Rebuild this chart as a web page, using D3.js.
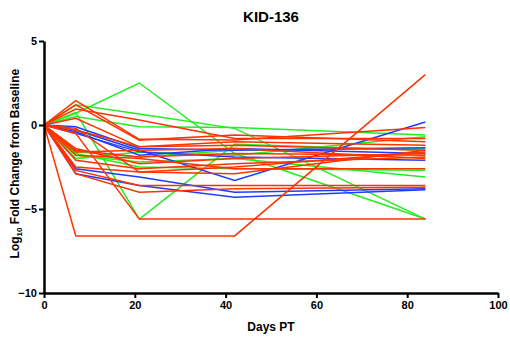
<!DOCTYPE html>
<html>
<head>
<meta charset="utf-8">
<script src="https://cdn.jsdelivr.net/npm/d3@7"></script>
<style>
  body { margin: 0; background: #fff; }
  svg text { font-family: "Liberation Sans", Arial, sans-serif; font-weight: bold; }
</style>
</head>
<body>
<div id="chart"></div>
<script>
// sample days
const days = [0, 7, 21, 42, 84];

// log10 fold change per subject, grouped by colour
const redSeries = [
  [0, -6.6, -6.6, -6.6, 3.0],
  [0, 1.45, -0.85, -0.9, -0.15],
  [0, 1.2, -0.9, -0.6, -1.0],
  [0, 0.95, 0.3, -0.8, -0.8],
  [0, 0.4, -1.3, -1.2, -1.5],
  [0, -0.5, -5.6, -5.6, -5.6],
  [0, -0.2, -2.8, -2.5, -1.6],
  [0, -1.5, -1.9, -1.7, -1.8],
  [0, -1.6, -1.5, -1.4, -2.0],
  [0, -2.1, -2.6, -2.3, -1.9],
  [0, -1.8, -2.0, -2.6, -2.6],
  [0, -2.7, -3.6, -3.6, -3.6],
  [0, -2.9, -4.0, -3.8, -3.7],
  [0, -0.3, -1.3, -1.0, -1.2],
  [0, -1.4, -2.3, -2.0, -1.7],
  [0, -2.5, -2.8, -2.9, -1.5]
];
const greenSeries = [
  [0, 0.7, 2.5, -1.7, -5.6],
  [0, 1.2, 0.65, -0.2, -5.6],
  [0, 0.5, -0.1, -0.15, -0.6],
  [0, 0.75, -5.6, -1.15, -1.5],
  [0, -1.7, -2.5, -2.6, -2.7],
  [0, -1.8, -2.2, -2.0, -3.1],
  [0, -2.0, -1.6, -1.8, -0.7],
  [0, -1.6, -1.9, -1.5, -1.4]
];
const blueSeries = [
  [0, -0.1, -1.4, -1.5, -1.35],
  [0, -0.5, -1.6, -1.9, -2.1],
  [0, -0.3, -1.5, -3.3, 0.18],
  [0, -2.6, -3.1, -4.0, -3.8],
  [0, -2.9, -3.6, -4.3, -3.85],
  [0, -0.4, -1.8, -1.4, -1.7]
];

const xTicks = [0, 20, 40, 60, 80, 100];
const yTicks = [5, 0, -5, -10];

const width = 510, height = 338;
const margin = { top: 41, right: 12, bottom: 45, left: 44 };

const svg = d3.select("#chart").append("svg")
  .attr("width", width)
  .attr("height", height);

const x = d3.scaleLinear().domain([0, 100]).range([margin.left, width - margin.right]);
const y = d3.scaleLinear().domain([-10, 5]).range([height - margin.bottom, margin.top]);

const line = d3.line()
  .x((d, i) => x(days[i]))
  .y(d => y(d));

const groups = [
  { data: redSeries, color: "#ff3300" },
  { data: greenSeries, color: "#22ee22" },
  { data: blueSeries, color: "#1f3dff" }
];

// draw green first, then blue, red on top (roughly as in the picture)
[groups[1], groups[2], groups[0]].forEach(g => {
  svg.append("g").selectAll("path")
    .data(g.data)
    .enter().append("path")
    .attr("d", line)
    .attr("fill", "none")
    .attr("stroke", g.color)
    .attr("stroke-width", 1.5);
});

// axes
const xAxis = svg.append("g")
  .attr("transform", `translate(0,${y(-10)})`)
  .call(d3.axisBottom(x).tickValues(xTicks).tickSize(5).tickSizeOuter(0).tickPadding(3));
const yAxis = svg.append("g")
  .attr("transform", `translate(${x(0)},0)`)
  .call(d3.axisLeft(y).tickValues(yTicks).tickSize(5).tickSizeOuter(0).tickPadding(2));

[xAxis, yAxis].forEach(a => {
  a.select(".domain").attr("stroke", "#000").attr("stroke-width", 2.5);
  a.selectAll(".tick line").attr("stroke", "#000").attr("stroke-width", 2);
  a.selectAll(".tick text").attr("fill", "#000").style("font-size", "11px");
});

// title and labels
svg.append("text")
  .attr("x", 271).attr("y", 22)
  .attr("text-anchor", "middle")
  .style("font-size", "15px")
  .text("KID-136");

svg.append("text")
  .attr("x", 271).attr("y", 331)
  .attr("text-anchor", "middle")
  .style("font-size", "12px")
  .text("Days PT");

const yl = svg.append("text")
  .attr("transform", `translate(19,${y(-2.3)}) rotate(-90)`)
  .attr("text-anchor", "middle")
  .style("font-size", "12px");
yl.append("tspan").text("Log");
yl.append("tspan").attr("dy", 3).style("font-size", "8px").text("10");
yl.append("tspan").attr("dy", -3).text(" Fold Change from Baseline");
</script>
</body>
</html>
